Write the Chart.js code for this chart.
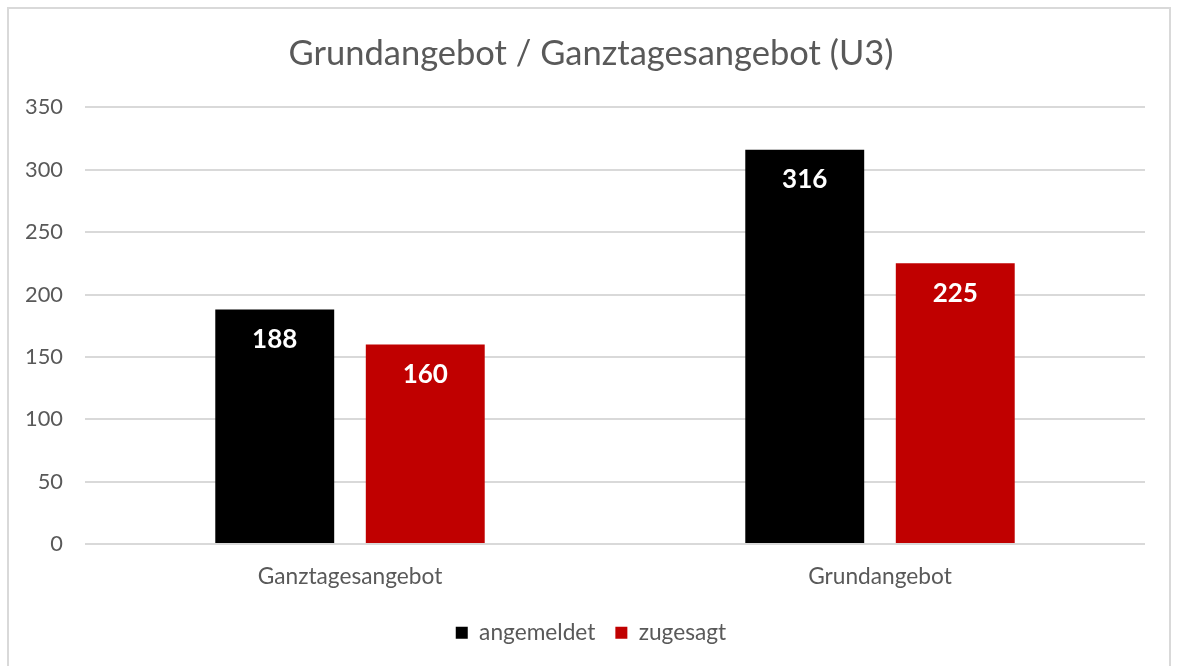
<!DOCTYPE html>
<html>
<head>
<meta charset="utf-8">
<script src="https://cdn.jsdelivr.net/npm/chart.js@4"></script>
<style>
  html, body { margin: 0; padding: 0; background: #fff; }
  #frame { position: absolute; left: 7px; top: 7px; width: 1164px; height: 670px; border: 2px solid #d9d9d9; box-sizing: border-box; }
  #wrap { position: absolute; left: 0; top: 0; width: 1180px; height: 666px; }
</style>
</head>
<body>
<div id="frame"></div>
<div id="wrap"><canvas id="barChart"></canvas></div>
<script>
var categories = ['Ganztagesangebot', 'Grundangebot'];
var angemeldet = [188, 316];
var zugesagt = [160, 225];
var seriesNames = ['angemeldet', 'zugesagt'];

var fontName = 'Lato, "Open Sans", sans-serif';
var textGrey = '#595959';

// white value labels inside the bar top
var valueLabels = {
    id: 'valueLabels',
    afterDatasetsDraw: function (chart) {
        var ctx = chart.ctx;
        ctx.save();
        ctx.fillStyle = '#ffffff';
        ctx.font = 'bold 26px ' + fontName;
        ctx.textAlign = 'center';
        ctx.textBaseline = 'middle';
        chart.data.datasets.forEach(function (ds, i) {
            chart.getDatasetMeta(i).data.forEach(function (bar, j) {
                ctx.fillText(ds.data[j], bar.x, bar.y + 30);
            });
        });
        ctx.restore();
    }
};

var mychart = document.getElementById('barChart').getContext('2d');

new Chart(mychart, {
    type: 'bar',
    data: {
        labels: categories,
        datasets: [{
            label: seriesNames[0],
            backgroundColor: '#000000',
            data: angemeldet
        }, {
            label: seriesNames[1],
            backgroundColor: '#c00000',
            data: zugesagt
        }]
    },
    plugins: [valueLabels],
    options: {
        responsive: true,
        maintainAspectRatio: false,
        animation: false,
        categoryPercentage: 0.568,
        barPercentage: 0.79,
        layout: { padding: { left: 20, right: 18, top: 10, bottom: 12 } },
        plugins: {
            title: {
                display: true,
                text: 'Grundangebot / Ganztagesangebot (U3)',
                color: textGrey,
                font: { family: fontName, size: 34.5, weight: 'normal' },
                padding: { top: 23, bottom: 33 }
            },
            legend: {
                position: 'bottom',
                labels: {
                    color: textGrey,
                    font: { family: fontName, size: 22.7 },
                    boxWidth: 12,
                    boxHeight: 12,
                    padding: 20
                }
            },
            tooltip: { enabled: false }
        },
        scales: {
            x: {
                grid: { display: false },
                border: { display: false },
                ticks: { color: textGrey, font: { family: fontName, size: 22.7 }, padding: 11 }
            },
            y: {
                min: 0,
                max: 350,
                ticks: { stepSize: 50, color: textGrey, font: { family: fontName, size: 21.8 }, padding: 22 },
                grid: { color: '#d9d9d9', lineWidth: 2, drawTicks: false },
                border: { display: false },
                afterFit: function (scale) { scale.width = 65; }
            },
            // empty right margin so title and legend sit centred in the frame
            yRight: {
                position: 'right',
                grid: { display: false },
                border: { display: false },
                ticks: { display: false },
                afterFit: function (scale) { scale.width = 17; }
            }
        }
    }
});
</script>
</body>
</html>
